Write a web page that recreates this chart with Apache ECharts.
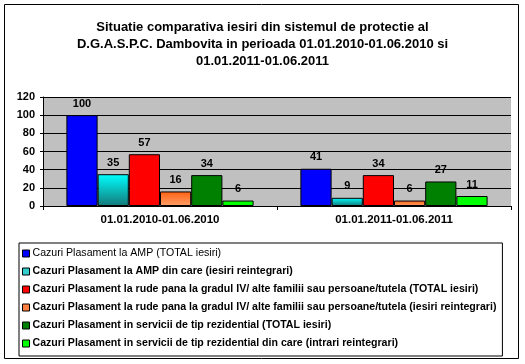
<!DOCTYPE html>
<html>
<head>
<meta charset="utf-8">
<script src="https://cdn.jsdelivr.net/npm/echarts@6/dist/echarts.min.js"></script>
<style>html,body{margin:0;padding:0;background:#fff;}#c{width:525px;height:364px;}</style>
</head>
<body>
<div id="c"></div>
<script>
var titleLines = ['Situatie comparativa iesiri din sistemul de protectie al', 'D.G.A.S.P.C. Dambovita in perioada 01.01.2010-01.06.2010 si', '01.01.2011-01.06.2011'];
var categories = ['01.01.2010-01.06.2010', '01.01.2011-01.06.2011'];
var seriesNames = [
  'Cazuri Plasament la AMP (TOTAL iesiri)',
  'Cazuri Plasament la AMP din care (iesiri reintegrari)',
  'Cazuri Plasament la rude pana la gradul IV/ alte familii sau persoane/tutela (TOTAL iesiri)',
  'Cazuri Plasament la rude pana la gradul IV/ alte familii sau persoane/tutela (iesiri reintegrari)',
  'Cazuri Plasament in servicii de tip rezidential (TOTAL iesiri)',
  'Cazuri Plasament in servicii de tip rezidential din care (intrari reintegrari)'
];
var amTotal = [100, 41];
var amReint = [35, 9];
var rudeTotal = [57, 34];
var rudeReint = [16, 6];
var rezTotal = [34, 27];
var rezReint = [6, 11];
var yTicks = [0, 20, 40, 60, 80, 100, 120];

var values = [amTotal, amReint, rudeTotal, rudeReint, rezTotal, rezReint];
var colors = [
  '#0000FF',
  {type:'linear',x:0,y:0,x2:0,y2:1,colorStops:[{offset:0,color:'#00FFFF'},{offset:1,color:'#147878'}]},
  '#FF0000',
  {type:'linear',x:0,y:0,x2:0,y2:1,colorStops:[{offset:0,color:'#FF6010'},{offset:1,color:'#FFA06A'}]},
  '#008000',
  '#00FF00'
];
var legendColors = ['#0000FF','#33CCCC','#FF0000','#FF8040','#008000','#00FF00'];
var FONT = '"Liberation Sans", Arial, sans-serif';

var series = values.map(function(v, i){
  return {
    name: seriesNames[i],
    type: 'bar',
    data: v,
    barGap: '0%',
    barCategoryGap: '20%',
    itemStyle: {color: colors[i], borderColor: '#000', borderWidth: 1},
    label: {show: true, position: 'top', distance: 6, color: '#000', fontWeight: 'bold', fontSize: 11, fontFamily: FONT},
    animation: false
  };
});

var chart = echarts.init(document.getElementById('c'), null, {renderer: 'canvas'});
chart.setOption({
  animation: false,
  backgroundColor: '#fff',
  title: {
    text: titleLines.join('\n'),
    left: 'center',
    top: 14,
    textStyle: {fontFamily: FONT, fontWeight: 'bold', fontSize: 13, lineHeight: 17, color: '#000'}
  },
  graphic: [{
    type: 'rect', shape: {x: 4.5, y: 4.5, width: 514, height: 354},
    style: {fill: 'none', stroke: '#000', lineWidth: 1}, silent: true, z: -1
  }],
  grid: {left: 43, right: 14, top: 97, bottom: 158, show: true, backgroundColor: '#C0C0C0', borderWidth: 0},
  legend: {
    orient: 'vertical', left: 19, top: 243,
    padding: [5, 6, 7, 3],
    itemGap: 7, itemWidth: 7, itemHeight: 7,
    borderColor: '#000', borderWidth: 1,
    icon: 'rect',
    data: seriesNames.map(function(n, i){
      return {name: n, itemStyle: {color: legendColors[i], borderColor: '#000', borderWidth: 1},
        textStyle: {fontWeight: i === 0 ? 'normal' : 'bold'}};
    }),
    textStyle: {fontFamily: FONT, fontSize: 10.6, lineHeight: 11, color: '#000', padding: [0,0,0,-2]}
  },
  xAxis: {
    type: 'category', data: categories,
    axisLine: {lineStyle: {color: '#000'}},
    axisTick: {show: true, length: 4, lineStyle: {color: '#000'}},
    axisLabel: {color: '#000', fontWeight: 'bold', fontSize: 11.5, fontFamily: FONT, margin: 8}
  },
  yAxis: {
    type: 'value', min: yTicks[0], max: yTicks[yTicks.length-1], interval: 20,
    axisLine: {show: true, lineStyle: {color: '#000'}},
    axisTick: {show: true, length: 3, lineStyle: {color: '#000'}},
    splitLine: {show: true, lineStyle: {color: '#000', width: 1}},
    axisLabel: {color: '#000', fontWeight: 'bold', fontSize: 11, fontFamily: FONT, margin: 8}
  },
  series: series
});
</script>
</body>
</html>
